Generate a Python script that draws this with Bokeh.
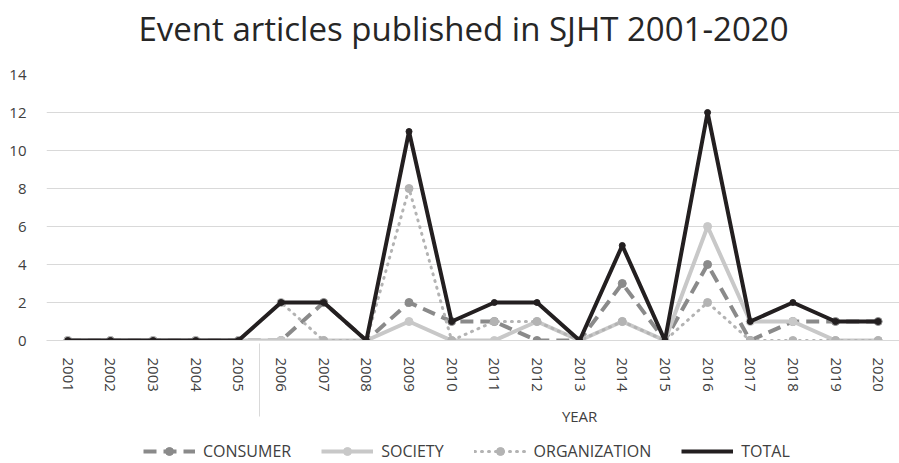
import math
from bokeh.plotting import figure
from bokeh.layouts import column
from bokeh.models import FactorRange, Range1d, FixedTicker, Legend, LegendItem, ColumnDataSource
from bokeh.core.properties import value
from bokeh.embed import file_html
from bokeh.resources import INLINE

years = ["2001", "2002", "2003", "2004", "2005", "2006", "2007", "2008", "2009", "2010",
         "2011", "2012", "2013", "2014", "2015", "2016", "2017", "2018", "2019", "2020"]
groups = [" "] * 5 + ["YEAR"] * 15
consumer = [0, 0, 0, 0, 0, 0, 2, 0, 2, 1, 1, 0, 0, 3, 0, 4, 0, 1, 1, 1]
society = [0, 0, 0, 0, 0, 0, 0, 0, 1, 0, 0, 1, 0, 1, 0, 6, 1, 1, 0, 0]
organization = [0, 0, 0, 0, 0, 2, 0, 0, 8, 0, 1, 1, 0, 1, 0, 2, 0, 0, 0, 0]
total = [0, 0, 0, 0, 0, 2, 2, 0, 11, 1, 2, 2, 0, 5, 0, 12, 1, 2, 1, 1]
y_ticks = [0, 2, 4, 6, 8, 10, 12, 14]
title_text = "Event articles published in SJHT 2001-2020"
series_names = ["CONSUMER", "SOCIETY", "ORGANIZATION", "TOTAL"]

FONT = "Open Sans"
TXT = "#404040"
W = 899
LEFT = 46  # frames of the stacked figures are aligned to the chart's plot area

styles = {
    "CONSUMER": dict(color="#8a8a8a", width=4, dash="13 7", cap="butt", msize=8),
    "SOCIETY": dict(color="#c8c8c8", width=4, dash="solid", cap="butt", msize=8),
    "ORGANIZATION": dict(color="#b3b3b3", width=3, dash="1 6", cap="round", msize=8),
    "TOTAL": dict(color="#231f20", width=4, dash="solid", cap="butt", msize=6),
}


def bare(fig):
    fig.outline_line_color = None
    fig.xgrid.grid_line_color = None
    fig.ygrid.grid_line_color = None
    return fig


# ---- title strip ----
pt = bare(figure(width=W, height=60, output_backend="svg", toolbar_location=None,
                 x_range=Range1d(LEFT, W), y_range=Range1d(60, 0),
                 x_axis_type=None, y_axis_type=None, min_border=0))
pt.text(x=[463], y=[28], text=[title_text], text_font=value(FONT), text_font_size="33px",
        text_color="#262626", text_align="center", text_baseline="middle")

# ---- main chart ----
factors = list(zip(groups, years))
src = ColumnDataSource(dict(x=factors, CONSUMER=consumer, SOCIETY=society,
                            ORGANIZATION=organization, TOTAL=total))

p = figure(width=W, height=368, output_backend="svg", toolbar_location=None,
           x_range=FactorRange(*factors, factor_padding=0, group_padding=0, range_padding=0),
           y_range=Range1d(0, 14),
           min_border_left=LEFT, min_border_right=0, min_border_top=14, min_border_bottom=88)
p.outline_line_color = None
p.xgrid.grid_line_color = None
p.ygrid.grid_line_color = "#d9d9d9"
p.ygrid.grid_line_width = 1

p.yaxis.ticker = FixedTicker(ticks=y_ticks)
p.yaxis.axis_line_color = None
p.yaxis.major_tick_line_color = None
p.yaxis.minor_tick_line_color = None
p.yaxis.major_label_text_font = FONT
p.yaxis.major_label_text_font_size = "15px"
p.yaxis.major_label_text_color = TXT
p.yaxis.major_label_standoff = 14

xa = p.xaxis[0]
xa.axis_line_color = "#d9d9d9"
xa.major_tick_line_color = None
xa.minor_tick_line_color = None
xa.major_label_orientation = -math.pi / 2
xa.major_label_text_font = FONT
xa.major_label_text_font_size = "15px"
xa.major_label_text_color = TXT
xa.major_label_standoff = 11
xa.group_text_font = FONT
xa.group_text_font_size = "15px"
xa.group_text_font_style = "normal"
xa.group_text_color = TXT
xa.separator_line_color = "#d9d9d9"
xa.separator_line_width = 1

for name in series_names:
    s = styles[name]
    p.line("x", name, source=src, line_color=s["color"], line_width=s["width"],
           line_dash=s["dash"], line_cap=s["cap"])
    p.scatter("x", name, source=src, size=s["msize"], color=s["color"])

# ---- legend strip ----
pl = bare(figure(width=W, height=35, output_backend="svg", toolbar_location=None,
                 x_range=Range1d(0, 1), y_range=Range1d(0, 1),
                 x_axis_type=None, y_axis_type=None, min_border=0))
items = []
proxy = ColumnDataSource(dict(x=[float("nan")], y=[float("nan")]))
for name in series_names:
    s = styles[name]
    rl = pl.line("x", "y", source=proxy, line_color=s["color"], line_width=s["width"],
                 line_dash=s["dash"], line_cap=s["cap"])
    rs = [rl]
    if name != "TOTAL":
        rs.append(pl.scatter("x", "y", source=proxy, size=s["msize"], color=s["color"]))
    items.append(LegendItem(label=name, renderers=rs))

legend = Legend(items=items, orientation="horizontal", location=(143 - LEFT, 1))
legend.border_line_color = None
legend.background_fill_alpha = 0
legend.label_text_font = FONT
legend.label_text_font_size = "16px"
legend.label_text_color = TXT
legend.glyph_width = 52
legend.label_standoff = 8
legend.spacing = 30
legend.padding = 0
legend.margin = 0
pl.add_layout(legend, "center")

layout = column(pt, p, pl, spacing=0)
open("out.html", "w").write(file_html(layout, INLINE))
